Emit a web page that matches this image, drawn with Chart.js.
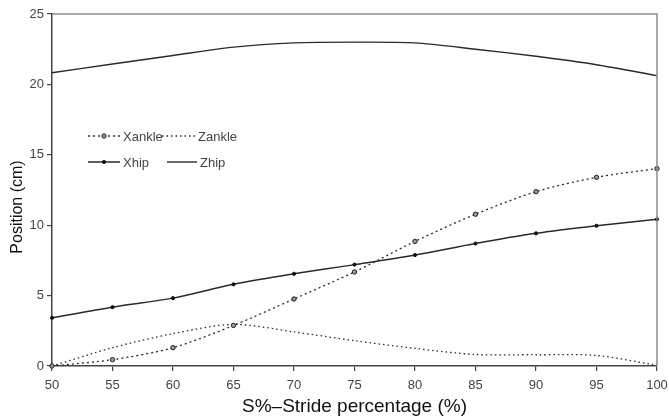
<!DOCTYPE html>
<html>
<head>
<meta charset="utf-8">
<style>
  html, body { margin: 0; padding: 0; background: #fff; }
  #wrap { width: 669px; height: 420px; }
</style>
<script src="https://cdn.jsdelivr.net/npm/chart.js@4.4.1/dist/chart.umd.min.js"></script>
</head>
<body>
<div id="wrap"><canvas id="chart"></canvas></div>
<script>
const strides = ['50', '55', '60', '65', '70', '75', '80', '85', '90', '95', '100'];
const xAnkle = [0, 0.45, 1.3, 2.88, 4.76, 6.68, 8.85, 10.78, 12.38, 13.4, 14.02];
const zAnkle = [0, 1.3, 2.3, 2.95, 2.42, 1.8, 1.25, 0.82, 0.8, 0.75, 0.05];
const xHip = [3.42, 4.18, 4.82, 5.8, 6.55, 7.2, 7.88, 8.7, 9.42, 9.96, 10.42];
const zHip = [20.83, 21.45, 22.05, 22.65, 22.95, 23.0, 22.95, 22.5, 22.0, 21.4, 20.62];
const yMin = 0, yMax = 25, yStep = 5;

const FONT = 'Liberation Sans, Arial, Helvetica, sans-serif';
const INK = '#2a2a2a';
const AXIS = '#444';

// top and right frame lines (lighter than the axes)
const framePlugin = {
  id: 'frame',
  afterDraw(chart) {
    const { ctx, chartArea: a } = chart;
    ctx.save();
    ctx.strokeStyle = '#8a8a8a';
    ctx.lineWidth = 1.5;
    ctx.beginPath();
    ctx.moveTo(a.left, a.top);
    ctx.lineTo(a.right, a.top);
    ctx.lineTo(a.right, a.bottom);
    ctx.stroke();
    ctx.restore();
  }
};

// y title drawn by hand so it can sit a bit below the middle like the original
const yTitlePlugin = {
  id: 'yTitle',
  afterDraw(chart) {
    const ctx = chart.ctx;
    ctx.save();
    ctx.translate(18, 207);
    ctx.rotate(-Math.PI / 2);
    ctx.font = '16px ' + FONT;
    ctx.fillStyle = '#111';
    ctx.textAlign = 'center';
    ctx.textBaseline = 'middle';
    ctx.fillText('Position (cm)', 0, 0);
    ctx.restore();
  }
};

// legend inside the plot, two rows of two
const legendSpots = [
  { x: 88, y: 136, len: 32 },
  { x: 162, y: 136, len: 33 },
  { x: 88, y: 162, len: 32 },
  { x: 167, y: 162, len: 30 }
];
const insideLegendPlugin = {
  id: 'insideLegend',
  afterDraw(chart) {
    const ctx = chart.ctx;
    ctx.save();
    chart.data.datasets.forEach((ds, i) => {
      const s = legendSpots[i];
      ctx.beginPath();
      ctx.setLineDash(ds.borderDash || []);
      ctx.strokeStyle = ds.borderColor;
      ctx.lineWidth = ds.borderWidth;
      ctx.moveTo(s.x, s.y);
      ctx.lineTo(s.x + s.len, s.y);
      ctx.stroke();
      ctx.setLineDash([]);
      if (ds.pointRadius > 0) {
        ctx.beginPath();
        ctx.arc(s.x + s.len / 2, s.y, ds.pointRadius, 0, Math.PI * 2);
        ctx.fillStyle = ds.pointBackgroundColor;
        ctx.fill();
        ctx.lineWidth = ds.pointBorderWidth;
        ctx.strokeStyle = ds.pointBorderColor;
        ctx.stroke();
      }
      ctx.font = '13px ' + FONT;
      ctx.fillStyle = '#444';
      ctx.textAlign = 'left';
      ctx.textBaseline = 'middle';
      ctx.fillText(ds.label, s.x + s.len + 3, s.y + 1);
    });
    ctx.restore();
  }
};

Chart.register(framePlugin, yTitlePlugin, insideLegendPlugin);

const ctx = document.getElementById('chart');
const chart = new Chart(ctx, {
  type: 'line',
  data: {
    labels: strides,
    datasets: [
      {
        label: 'Xankle',
        data: xAnkle,
        borderColor: INK,
        borderWidth: 1.3,
        borderDash: [2, 3],
        pointRadius: 2.2,
        pointBackgroundColor: '#999',
        pointBorderColor: '#222',
        pointBorderWidth: 1,
        tension: 0.3
      },
      {
        label: 'Zankle',
        data: zAnkle,
        borderColor: INK,
        borderWidth: 1.3,
        borderDash: [1.5, 3],
        pointRadius: 0,
        tension: 0.3
      },
      {
        label: 'Xhip',
        data: xHip,
        borderColor: INK,
        borderWidth: 1.5,
        pointRadius: 1.6,
        pointBackgroundColor: '#111',
        pointBorderColor: '#111',
        pointBorderWidth: 1,
        tension: 0.3
      },
      {
        label: 'Zhip',
        data: zHip,
        borderColor: INK,
        borderWidth: 1.4,
        pointRadius: 0,
        tension: 0.25
      }
    ]
  },
  options: {
    animation: false,
    responsive: true,
    maintainAspectRatio: false,
    clip: 4,
    layout: { padding: { top: 14, right: 0, left: 0, bottom: 0 } },
    plugins: {
      legend: { display: false },
      tooltip: { enabled: false }
    },
    scales: {
      x: {
        type: 'category',
        offset: false,
        grid: { display: true, drawOnChartArea: false, drawTicks: true, tickLength: 5, color: AXIS, lineWidth: 1.2 },
        border: { display: true, color: AXIS, width: 1.5 },
        ticks: { color: '#444', font: { family: FONT, size: 13 }, padding: 7, maxRotation: 0, autoSkip: false },
        title: {
          display: true,
          text: 'S%–Stride percentage (%)',
          color: '#111',
          font: { family: FONT, size: 19 },
          padding: { top: 0, bottom: 2 }
        },
        afterFit(scale) {
          scale.height = 54;
          scale.paddingRight = 12;
          scale.paddingLeft = 0;
        }
      },
      y: {
        min: yMin,
        max: yMax,
        grid: { display: true, drawOnChartArea: false, drawTicks: true, tickLength: 5, color: AXIS, lineWidth: 1.2 },
        border: { display: true, color: AXIS, width: 1.5 },
        ticks: { stepSize: yStep, color: '#444', font: { family: FONT, size: 13 }, padding: 3 },
        afterFit(scale) { scale.width = 52; }
      }
    }
  }
});
</script>
</body>
</html>
